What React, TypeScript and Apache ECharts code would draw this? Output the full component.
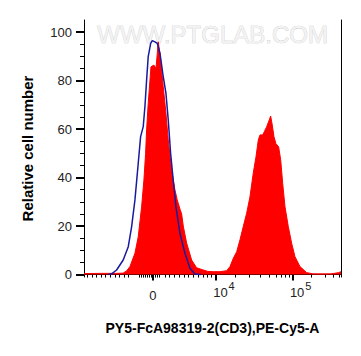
import React, { useEffect, useRef } from "react";
import * as echarts from "echarts";

// Display positions on the biexponential axis (1 unit = 1 decade; 10^4 -> 4, 10^5 -> 5)
const redX = [2.28, 2.5, 2.7, 2.791, 2.835, 2.879, 2.944, 2.987, 3.031, 3.061, 3.083, 3.096, 3.117, 3.14, 3.153, 3.192, 3.218, 3.235, 3.248, 3.27, 3.292, 3.313, 3.348, 3.378, 3.422, 3.465, 3.495, 3.531, 3.553, 3.574, 3.618, 3.683, 3.748, 3.834, 3.896, 3.965, 4.052, 4.14, 4.183, 4.226, 4.27, 4.313, 4.356, 4.4, 4.443, 4.486, 4.522, 4.552, 4.574, 4.609, 4.63, 4.661, 4.695, 4.713, 4.734, 4.756, 4.782, 4.817, 4.844, 4.87, 4.9, 4.943, 4.987, 5.03, 5.095, 5.183, 5.269, 5.5, 5.6, 5.63];
const redY = [0.4, 0.5, 0.5, 0.6, 1.5, 3.3, 8.8, 15.6, 28, 39, 50, 59.6, 70.6, 80.2, 85.7, 86.4, 85, 91, 96, 91, 84, 77.5, 66.6, 55.5, 43, 35, 30.8, 27, 25, 20, 13, 6, 2.8, 1.9, 1.3, 1.2, 1.2, 1.6, 3.3, 6.7, 9.4, 14.3, 19.8, 25.3, 32, 41.8, 48.6, 55.5, 57.6, 57.6, 58.9, 61, 63.8, 65.4, 61.7, 56.9, 54, 52.7, 47.3, 37.6, 28, 19.8, 12.9, 7.4, 3.3, 0.8, 0.3, 0.3, 0.8, 1.2];

const blueX = [2.6, 2.64, 2.705, 2.791, 2.857, 2.901, 2.944, 2.987, 3.018, 3.052, 3.074, 3.096, 3.117, 3.149, 3.17, 3.205, 3.235, 3.27, 3.313, 3.348, 3.378, 3.409, 3.443, 3.478, 3.531, 3.596, 3.661, 3.726, 3.8];
const blueY = [0, 0.3, 1.9, 6, 11.5, 19.8, 30.8, 45.9, 56.9, 61, 69.2, 80.2, 89.9, 95.4, 96.5, 96, 95.4, 91.3, 81.6, 74.8, 63.8, 50, 39, 28, 17, 8.8, 2.6, 0.2, 0];

const yMajorTicks = [0, 20, 40, 60, 80, 100];
const yMinorTicks = [5, 10, 15, 25, 30, 35, 45, 50, 55, 65, 70, 75, 85, 90, 95];

const xLabelValues = [3.179, 4, 5];
const xLabelBase = ["0", "10", "10"];
const xLabelExp = ["", "4", "5"];
const xMinorTicks = [2.322, 2.383, 2.445, 2.501, 2.562, 2.622, 2.683, 2.739, 2.801, 2.862, 2.997, 3.029, 3.055, 3.081, 3.107, 3.133, 3.159, 3.185, 3.211, 3.237, 3.257, 3.335, 3.391, 3.456, 3.518, 3.583, 3.644, 3.704, 3.769, 3.834, 3.887, 3.935, 4.248, 4.434, 4.583, 4.695, 4.782, 4.847, 4.9, 4.952, 5.248, 5.421, 5.529, 5.604];

const X_MIN = 2.28;
const X_MAX = 5.63;
const Y_MIN = -1;
const Y_MAX = 105;

const FONT = "'Liberation Sans', Arial, sans-serif";

export default function App() {
  const ref = useRef<HTMLDivElement>(null);
  useEffect(() => {
    if (!ref.current) return;
    const chart = echarts.init(ref.current, null, { renderer: "svg" });
    const redData = redX.map((x, i) => [x, redY[i]]);
    const blueData = blueX.map((x, i) => [x, blueY[i]]);
    const hidden = { show: false };
    chart.setOption({
      animation: false,
      backgroundColor: "#ffffff",
      textStyle: { fontFamily: FONT },
      grid: { left: 84, right: 20, top: 20, bottom: 79, containLabel: false },
      graphic: [
        {
          type: "text",
          left: 97,
          top: 22,
          z: 0,
          style: {
            text: "WWW.PTGLAB.COM",
            fontFamily: FONT,
            fontSize: 24,
            fill: "#f3f3f3",
            stroke: "#c4c4c4",
            lineWidth: 0.6,
          },
        },
      ],
      xAxis: [
        {
          type: "value",
          min: X_MIN,
          max: X_MAX,
          position: "bottom",
          splitLine: hidden,
          axisLine: hidden,
          axisTick: {
            show: true,
            customValues: xLabelValues,
            length: 6,
            lineStyle: { color: "#000", width: 2 },
          },
          axisLabel: {
            customValues: xLabelValues,
            margin: 9,
            color: "#222",
            formatter: (v: number) => {
              let idx = 0;
              let best = Infinity;
              xLabelValues.forEach((lv, i) => {
                const d = Math.abs(lv - v);
                if (d < best) {
                  best = d;
                  idx = i;
                }
              });
              if (!xLabelExp[idx]) return "{z|" + xLabelBase[idx] + "}";
              return "{b|" + xLabelBase[idx] + "}{s|" + xLabelExp[idx] + "}";
            },
            rich: {
              z: { fontSize: 13, lineHeight: 13, padding: [6, 0, 0, 0], color: "#222", fontFamily: FONT },
              b: { fontSize: 13, lineHeight: 13, padding: [0, 0, 0, 16], verticalAlign: "bottom", color: "#222", fontFamily: FONT },
              s: { fontSize: 11, lineHeight: 11, padding: [0, 0, 8, 1], verticalAlign: "bottom", color: "#222", fontFamily: FONT },
            },
          },
          name: "PY5-FcA98319-2(CD3),PE-Cy5-A",
          nameLocation: "middle",
          nameGap: 44,
          nameTextStyle: { fontSize: 14, fontWeight: "bold", color: "#000", fontFamily: FONT },
        },
        {
          type: "value",
          min: X_MIN,
          max: X_MAX,
          position: "bottom",
          splitLine: hidden,
          axisLine: hidden,
          axisLabel: hidden,
          axisTick: {
            show: true,
            customValues: xMinorTicks,
            length: 3,
            lineStyle: { color: "#000", width: 1 },
          },
        },
        {
          type: "value",
          min: X_MIN,
          max: X_MAX,
          position: "top",
          splitLine: hidden,
          axisLabel: hidden,
          axisTick: hidden,
          axisLine: { show: true, lineStyle: { color: "#000", width: 1 } },
        },
      ],
      yAxis: [
        {
          type: "value",
          min: Y_MIN,
          max: Y_MAX,
          position: "left",
          splitLine: hidden,
          axisLine: { show: true, lineStyle: { color: "#000", width: 1 } },
          axisTick: {
            show: true,
            customValues: yMajorTicks,
            length: 8,
            lineStyle: { color: "#000", width: 2 },
          },
          axisLabel: {
            customValues: yMajorTicks,
            margin: 12,
            fontSize: 13,
            color: "#222",
            fontFamily: FONT,
          },
          name: "Relative cell number",
          nameLocation: "middle",
          nameGap: 49,
          nameTextStyle: { fontSize: 15, fontWeight: "bold", color: "#000", fontFamily: FONT },
        },
        {
          type: "value",
          min: Y_MIN,
          max: Y_MAX,
          position: "left",
          splitLine: hidden,
          axisLine: hidden,
          axisLabel: hidden,
          axisTick: {
            show: true,
            customValues: yMinorTicks,
            length: 4,
            lineStyle: { color: "#000", width: 1 },
          },
        },
        {
          type: "value",
          min: Y_MIN,
          max: Y_MAX,
          position: "right",
          splitLine: hidden,
          axisLabel: hidden,
          axisTick: hidden,
          axisLine: { show: true, lineStyle: { color: "#000", width: 1 } },
        },
      ],
      series: [
        {
          type: "line",
          name: "CD3",
          xAxisIndex: 0,
          yAxisIndex: 0,
          data: redData,
          showSymbol: false,
          symbol: "none",
          smooth: false,
          lineStyle: { color: "#ff0000", width: 1 },
          areaStyle: { color: "#ff0000", opacity: 1 },
          z: 2,
        },
        {
          type: "line",
          name: "Control",
          xAxisIndex: 0,
          yAxisIndex: 0,
          data: blueData,
          showSymbol: false,
          symbol: "none",
          smooth: false,
          lineStyle: { color: "#1a1a9e", width: 1.5 },
          z: 3,
        },
      ],
    });
    return () => chart.dispose();
  }, []);
  return (
    <div
      ref={ref}
      style={{ position: "fixed", left: 0, top: 0, width: 361, height: 356, background: "#fff" }}
    />
  );
}
